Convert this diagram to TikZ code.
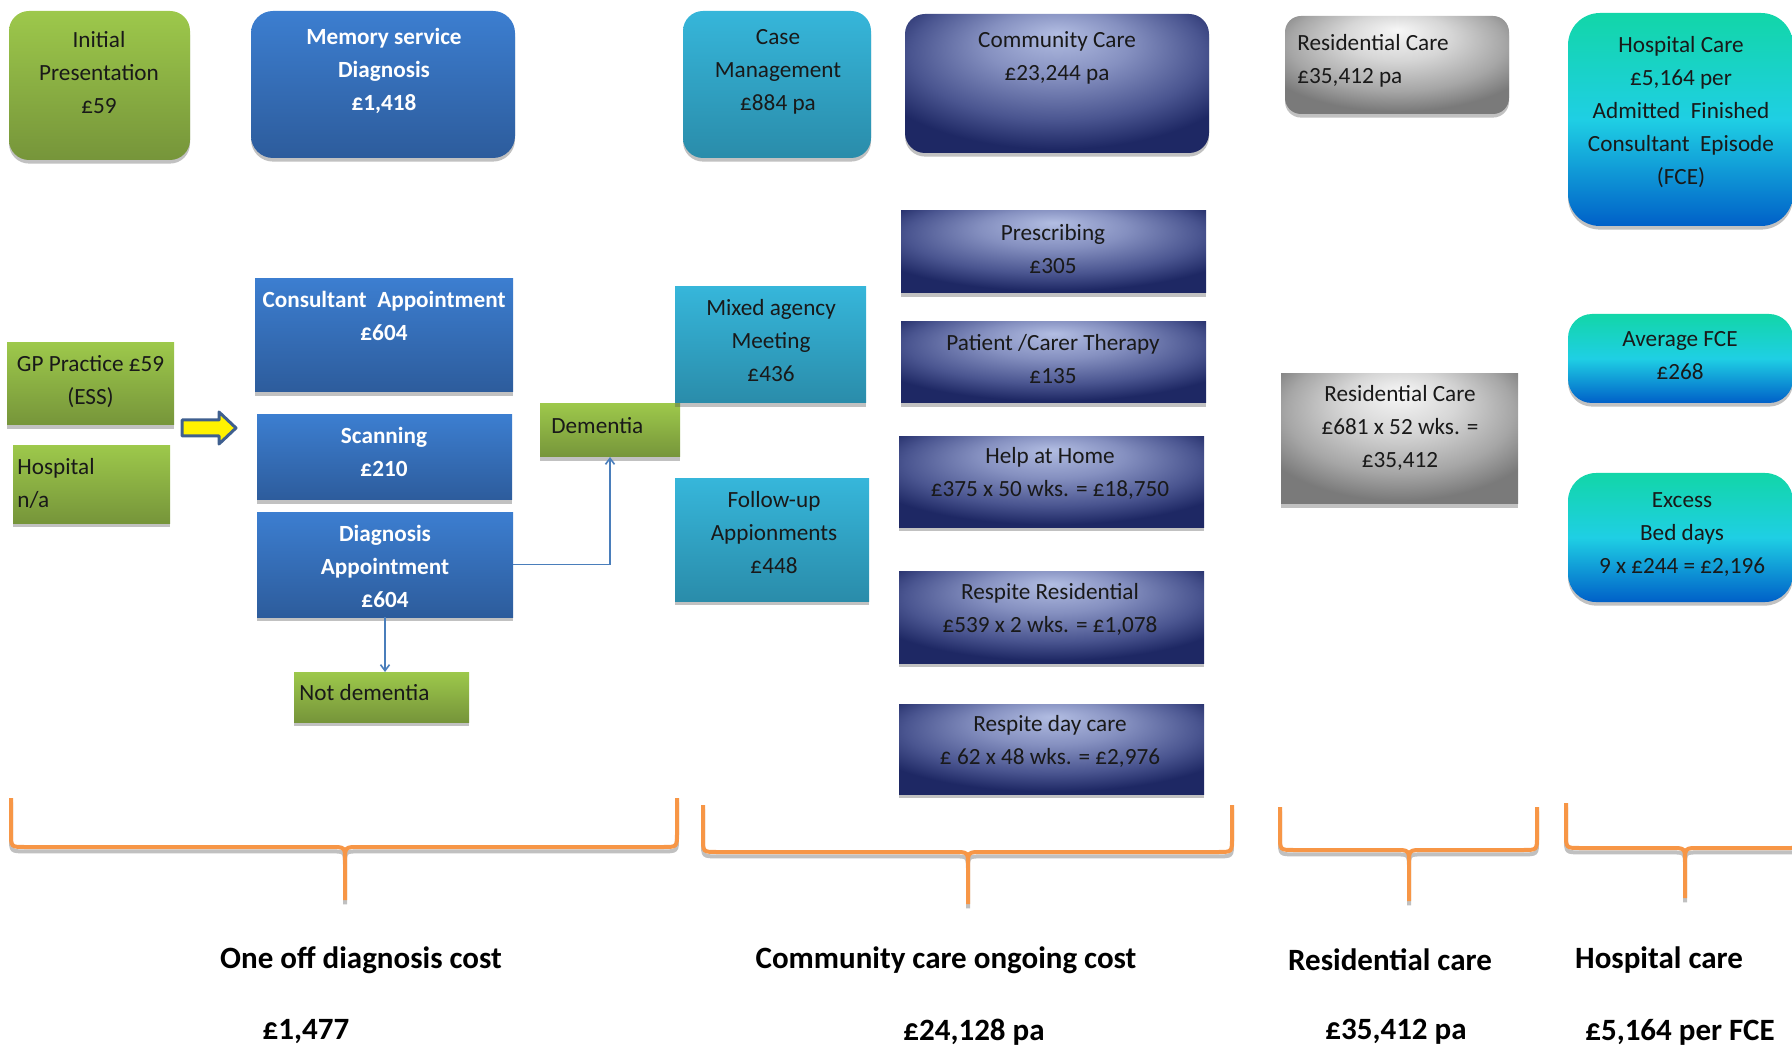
\documentclass[tikz,border=0pt]{standalone}
\usepackage{fontspec}
\setmainfont{Carlito}
\usetikzlibrary{fit,shadows,arrows.meta}
\definecolor{gTop}{HTML}{9DC84B}
\definecolor{gBot}{HTML}{76953A}
\definecolor{bTop}{HTML}{3C7ED0}
\definecolor{bBot}{HTML}{2D5C9C}
\definecolor{tTop}{HTML}{36B6DA}
\definecolor{tBot}{HTML}{2A8CAA}
\definecolor{hTop}{HTML}{12D6A8}
\definecolor{hMid}{HTML}{1FCFE4}
\definecolor{hBot}{HTML}{0060C8}
\definecolor{orangeB}{HTML}{F79646}
\definecolor{connB}{HTML}{4A7EBB}
\definecolor{arrowEdge}{HTML}{3F5F8F}
\definecolor{nvL}{HTML}{B2BDE2}
\definecolor{nvM}{HTML}{8590C0}
\definecolor{nvK}{HTML}{4A5590}
\definecolor{nvD}{HTML}{1E2864}
\definecolor{gyL}{HTML}{F7F7F7}
\definecolor{gyM}{HTML}{D6D6D6}
\definecolor{gyK}{HTML}{A6A6A6}
\definecolor{gyD}{HTML}{7A7A7A}
\pgfdeclareradialshading{navyglow}{\pgfpoint{0bp}{18bp}}{color(0bp)=(nvL); color(12bp)=(nvM); color(24bp)=(nvK); color(32bp)=(nvD); color(60bp)=(nvD)}
\pgfdeclareradialshading{greyglow}{\pgfpoint{0bp}{18bp}}{color(0bp)=(gyL); color(12bp)=(gyM); color(24bp)=(gyK); color(32bp)=(gyD); color(60bp)=(gyD)}
\tikzset{
 box/.style={inner sep=0pt, outer sep=0pt, drop shadow={shadow xshift=0pt, shadow yshift=-1.8pt, opacity=0.35, fill=black!70}},
 gbox/.style={box, top color=gTop, bottom color=gBot},
 bbox/.style={box, top color=bTop, bottom color=bBot},
 tbox/.style={box, top color=tTop, bottom color=tBot},
 hbox/.style={box, top color=hTop, bottom color=hBot, middle color=hMid},
 nbox/.style={box, shade, shading=navyglow},
 ybox/.style={box, shade, shading=greyglow},
 txt/.style={inner sep=0pt, align=center, text=black!90, yshift=-1pt, font=\fontsize{11.6}{16.5}\selectfont},
 ltxt/.style={txt, align=left, anchor=west},
 wtxt/.style={txt, text=white, font=\fontsize{11.6}{16.5}\selectfont\bfseries},
 big/.style={inner sep=0pt, text=black, font=\fontsize{15.5}{18}\selectfont\bfseries},
 conn/.style={draw=connB, line width=0.8pt, -{Straight Barb[length=3pt,width=4.5pt]}},
 bracesh/.style={draw=black!55, line width=2pt, opacity=0.45},
 bracel/.style={draw=orangeB, line width=2pt},
}
\newcommand\costbracepath[6]{(#1,#4) -- (#1,#5-14) .. controls (#1,#5) .. (#1+14,#5) -- (#3-14,#5) .. controls (#3,#5) .. (#3,#5+14) -- (#3,#6) (#2,#4) -- (#2,#5-14) .. controls (#2,#5) .. (#2-14,#5) -- (#3+14,#5) .. controls (#3,#5) .. (#3,#5+14)}
\newcommand\costbrace[6]{%
 \draw[bracesh, yshift=-2.2pt] \costbracepath{#1}{#2}{#3}{#4}{#5}{#6};
 \draw[bracel] \costbracepath{#1}{#2}{#3}{#4}{#5}{#6};
}
\begin{document}
\begin{tikzpicture}[x=0.5pt,y=-0.5pt]
\useasboundingbox (0,0) rectangle (1792,1047);
% ---- top row
\node[gbox, rounded corners=10pt, fit={(9,11) (190,160)}] (ip) {};
\node[txt] (ipt) at (99,71) {Initial\\Presentation\\£59};
\node[bbox, rounded corners=11pt, fit={(251,11) (515,158)}] (ms) {};
\node[wtxt] (mst) at (384,69) {Memory service\\Diagnosis\\£1,418};
\node[tbox, rounded corners=10pt, fit={(683,11) (871,158)}] (cm) {};
\node[txt] (cmt) at (778,70) {Case\\Management\\£884 pa};
\node[nbox, rounded corners=10pt, fit={(905,14) (1209,153)}] (cc) {};
\node[txt] (cct) at (1057,55.5) {Community Care\\£23,244 pa};
\node[ybox, rounded corners=8pt, fit={(1285,16) (1509,114)}] (rc1) {};
\node[ltxt] (rc1t) at (1297,58.5) {Residential Care\\£35,412 pa};
\node[hbox, rounded corners=16pt, fit={(1568,13) (1793,226)}] (hc) {};
\node[txt] (hct) at (1681,110) {Hospital Care\\£5,164 per\\Admitted~~Finished\\Consultant~~Episode\\(FCE)};
% ---- left column
\node[gbox, fit={(7,343) (174,425)}] (gp) {};
\node[txt] (gpt) at (90.5,379.5) {GP Practice £59\\(ESS)};
\node[gbox, fit={(13,446) (170,523)}] (hosp) {};
\node[ltxt] (hospt) at (17,481.5) {Hospital\\n/a};
\draw[draw=arrowEdge, fill=yellow, line width=1.5pt, line join=round]
  (182,420) -- (219,420) -- (219,412) -- (236,428) -- (219,444) -- (219,436) -- (182,436) -- cycle;
% ---- memory service column
\node[bbox, fit={(255,279) (513,392)}] (con) {};
\node[wtxt] (cont) at (384,314) {Consultant~~Appointment\\£604};
\node[bbox, fit={(257,415) (512,500)}] (scan) {};
\node[wtxt] (scant) at (384,450) {Scanning\\£210};
\node[bbox, fit={(257,512) (513,617)}] (diag) {};
\node[wtxt] (diagt) at (385,564) {Diagnosis\\Appointment\\£604};
\node[gbox, fit={(540,404) (680,457)}] (dem) {};
\node[ltxt] (demt) at (551,424) {Dementia};
\node[gbox, fit={(294,672) (469,722)}] (notdem) {};
\node[ltxt] (notdemt) at (299,691) {Not dementia};
\draw[conn] (diag.east) -| (dem.south);
\draw[conn] (diag.south) -- (diag.south |- notdem.north);
% ---- case management column
\node[tbox, fit={(675,287) (866,403)}] (mix) {};
\node[txt] (mixt) at (771,339) {Mixed agency\\Meeting\\£436};
\node[tbox, fit={(675,479) (869,601)}] (fol) {};
\node[txt] (folt) at (774,531) {Follow-up\\Appionments\\£448};
% ---- community care column
\node[nbox, fit={(901,211) (1206,293)}] (pre) {};
\node[txt] (pret) at (1053,247) {Prescribing\\£305};
\node[nbox, fit={(901,322) (1206,403)}] (pat) {};
\node[txt] (patt) at (1053,357) {Patient /Carer Therapy\\£135};
\node[nbox, fit={(899,437) (1204,527)}] (help) {};
\node[txt] (helpt) at (1050,471.5) {Help at Home\\£375 x 50 wks. = £18,750};
\node[nbox, fit={(899,571) (1204,663)}] (rres) {};
\node[txt] (rrest) at (1050,607.5) {Respite Residential\\£539 x 2 wks. = £1,078};
\node[nbox, fit={(899,704) (1204,794)}] (rday) {};
\node[txt] (rdayt) at (1050,739) {Respite day care\\£ 62 x 48 wks. = £2,976};
% ---- residential
\node[ybox, fit={(1281,374) (1518,504)}] (rc2) {};
\node[txt] (rc2t) at (1400,426) {Residential Care\\£681 x 52 wks. =\\£35,412};
% ---- hospital
\node[hbox, rounded corners=12pt, fit={(1568,314) (1793,403)}] (avg) {};
\node[txt] (avgt) at (1680,354) {Average FCE\\£268};
\node[hbox, rounded corners=14pt, fit={(1568,473) (1793,602)}] (exc) {};
\node[txt] (exct) at (1682,533) {Excess\\Bed days\\9 x £244 = £2,196};
% ---- braces
\costbrace{11}{677}{345}{798}{847}{900}
\costbrace{703}{1232}{968}{805}{852}{904}
\costbrace{1280}{1537}{1409}{807}{850}{901}
\costbrace{1566}{1804}{1685}{803}{848}{898}
% ---- bottom labels
\node[big] (l1) at (361,960) {One off diagnosis cost};
\node[big] (v1) at (306,1032) {£1,477};
\node[big] (l2) at (946,960) {Community care ongoing cost};
\node[big] (v2) at (974,1032) {£24,128 pa};
\node[big] (l3) at (1390,960) {Residential care};
\node[big] (v3) at (1396,1032) {£35,412 pa};
\node[big] (l4) at (1659,960) {Hospital care};
\node[big] (v4) at (1680,1032) {£5,164 per FCE};
\end{tikzpicture}
\end{document}
